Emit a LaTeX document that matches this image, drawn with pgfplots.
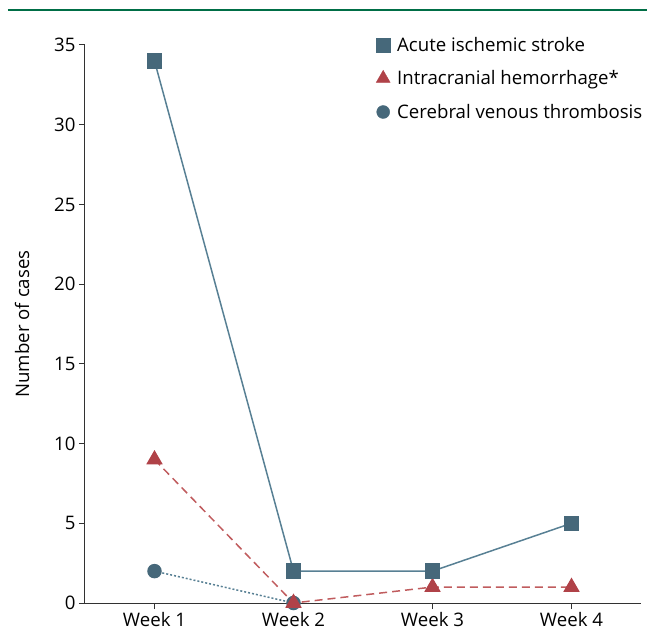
\documentclass[border=0pt]{standalone}
\usepackage{pgfplots}
\pgfplotsset{compat=1.18}
\usepackage{fontspec}
\setmainfont{Open Sans}
\definecolor{rule}{RGB}{0,110,70}
\definecolor{bluem}{RGB}{70,104,122}
\definecolor{bluel}{RGB}{88,128,148}
\definecolor{redm}{RGB}{176,66,72}
\definecolor{redl}{RGB}{192,92,94}
\definecolor{axisc}{RGB}{50,50,50}
\begin{document}
\begin{tikzpicture}
  \useasboundingbox (-85bp,-34bp) rectangle (562bp,603bp);
  \draw[rule, line width=2.5bp] (-77bp,593bp) -- (562bp,593bp);
  \begin{axis}[
    at={(0,0)}, anchor=south west,
    scale only axis, width=556bp, height=558bp,
    xmin=-0.5, xmax=3.5, ymin=0, ymax=35,
    axis x line=bottom, axis y line=left,
    axis line style={-, axisc, line width=1bp},
    xtick={0,1,2,3},
    xticklabels={Week 1,Week 2,Week 3,Week 4},
    ytick={0,5,...,35},
    tick align=outside, major tick length=6bp,
    tick style={axisc, line width=1bp},
    ylabel={Number of cases},
    ylabel style={at={(axis description cs:-0.113,0.5)}, anchor=center},
    font=\fontsize{18.7}{22}\selectfont,
    /pgf/number format/assume math mode=true,
    clip=false,
    legend style={draw=none, fill=none, at={(0.518,1.022)}, anchor=north west,
      row sep=14bp, font=\fontsize{18.7}{22}\selectfont},
    legend cell align=left,
    legend image code/.code={\path[draw=none, fill=none] (0bp,0bp) -- (19bp,0bp);
      \draw[only marks,#1] plot coordinates {(7bp,0bp)};},
  ]
    \addlegendimage{only marks, mark=square*, mark size=7bp, draw=bluem, fill=bluem}
    \addlegendentry{Acute ischemic stroke}
    \addlegendimage{only marks, mark=triangle*, mark size=8bp, draw=redm, fill=redm}
    \addlegendentry{Intracranial hemorrhage*}
    \addlegendimage{only marks, mark=*, mark size=6.5bp, draw=bluem, fill=bluem}
    \addlegendentry{Cerebral venous thrombosis}

    % Cerebral venous thrombosis
    \addplot[forget plot, bluel, line width=1.5bp, dash pattern=on 2bp off 2bp,
      mark=*, mark size=6.5bp, mark options={solid, draw=bluem, fill=bluem}]
      coordinates {(0,2) (1,0)};
    % Intracranial hemorrhage
    \addplot[forget plot, redl, line width=1.5bp, dash pattern=on 8bp off 5bp,
      mark=triangle*, mark size=8bp, mark options={solid, draw=redm, fill=redm}]
      coordinates {(0,9) (1,0) (2,1) (3,1)};
    % Acute ischemic stroke
    \addplot[forget plot, bluel, line width=1.5bp,
      mark=square*, mark size=7bp, mark options={draw=bluem, fill=bluem}]
      coordinates {(0,34) (1,2) (2,2) (3,5)};
  \end{axis}
\end{tikzpicture}
\end{document}
